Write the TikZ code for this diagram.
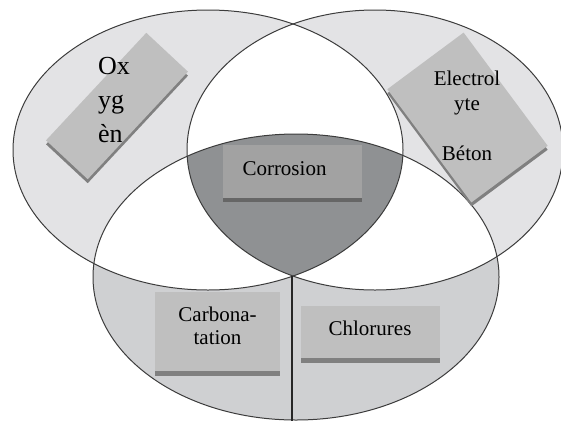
\documentclass[tikz,border=0pt]{standalone}
\usepackage{fontspec}
\setmainfont{Liberation Serif}
\usetikzlibrary{calc}

\definecolor{ringgray}{HTML}{E3E3E5}
\definecolor{basegray}{HTML}{CFD0D2}
\definecolor{coregray}{HTML}{8F9193}
\definecolor{panegray}{HTML}{BFBFBF}
\definecolor{corepane}{HTML}{A2A2A2}
\definecolor{dropgray}{HTML}{808080}
\definecolor{coredrop}{HTML}{666666}
\definecolor{rimgray}{HTML}{3C3C3C}

% the three sets of the diagram
\newcommand\oxygenset{(208,150) ellipse [x radius=195, y radius=140]}
\newcommand\electroset{(375,150) ellipse [x radius=188, y radius=140]}
\newcommand\agentset{(296,277) ellipse [x radius=203, y radius=143]}

\begin{document}
\begin{tikzpicture}[
    % Global options: pixel-like units, thin outlines, serif text
    x=1pt, y=-1pt,
    line width=1pt,
    font=\fontsize{21}{25}\selectfont,
    pane/.style={fill=panegray, inner sep=0pt, outer sep=0pt},
    panedrop/.style={fill=dropgray, inner sep=0pt, outer sep=0pt},
    lbl/.style={inner sep=0pt, align=center},
  ]
    \useasboundingbox (0,0) rectangle (561,421);
    \clip (0,0) rectangle (561,421);

    % --- Filled sets ---
    \fill[ringgray] \oxygenset;
    \fill[ringgray] \electroset;
    \fill[basegray] \agentset;

    % --- Pairwise overlaps in white, core in dark gray ---
    \begin{scope}
      \clip \oxygenset;
      \fill[white] \electroset;
      \fill[white] \agentset;
    \end{scope}
    \begin{scope}
      \clip \electroset;
      \fill[white] \agentset;
      \clip \agentset;
      \fill[coregray] \oxygenset;
    \end{scope}

    % --- Outlines ---
    \draw[rimgray] \oxygenset;
    \draw[rimgray] \electroset;
    \draw[rimgray] \agentset;

    % --- Split of the lower set ---
    \coordinate (tip) at (292,276);
    \coordinate (foot) at (292,421);
    \draw[black!85, line width=1.3pt] (tip) -- (foot);

    % --- Oxygene pane (tilted) ---
    \node[panedrop, rotate=47, minimum width=147, minimum height=57]
      (oxdrop) at (117,110) {};
    \node[pane, rotate=47, minimum width=147, minimum height=57]
      (oxpane) at (117,106) {};
    \node[lbl, align=left, font=\fontsize{26}{34}\selectfont]
      (oxtext) at (114,100) {Ox\\yg\\èn};

    % --- Electrolyte pane (tilted) ---
    \node[panedrop, rotate=-53.4, minimum width=141, minimum height=95]
      (eldrop) at (467.5,121.5) {};
    \node[pane, rotate=-53.4, minimum width=141, minimum height=95]
      (elpane) at (467.5,117.5) {};
    \node[lbl] (eltext) at (467,115.5) {Electrol\\yte\\[25pt]Béton};

    % --- Corrosion pane ---
    \node[panedrop, fill=coredrop, minimum width=139, minimum height=53]
      (codrop) at (292.5,175.5) {};
    \node[pane, fill=corepane, minimum width=139, minimum height=53]
      (copane) at (292.5,171.5) {};
    \node[lbl, anchor=base] (cotext) at (284.5,175) {Corrosion};

    % --- Carbonatation pane ---
    \node[panedrop, minimum width=125, minimum height=79]
      (cadrop) at (217.5,336.5) {};
    \node[pane, minimum width=125, minimum height=79]
      (capane) at (217.5,331.5) {};
    \node[lbl, font=\fontsize{21}{23}\selectfont]
      (catext) at (217.5,326) {Carbona-\\tation};

    % --- Chlorures pane ---
    \node[panedrop, minimum width=139, minimum height=52]
      (chdrop) at (370.5,337) {};
    \node[pane, minimum width=139, minimum height=52]
      (chpane) at (370.5,332) {};
    \node[lbl, anchor=base] (chtext) at (370,335) {Chlorures};
  \end{tikzpicture}
\end{document}
